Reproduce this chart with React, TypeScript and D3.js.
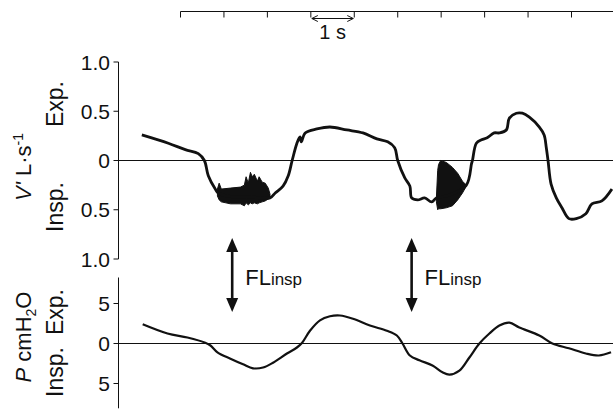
import React from "react";
import * as d3 from "d3";

// ---- data ----
const timeTicks = [0, 1, 2, 3, 4, 5, 6, 7, 8, 9];

const flowTickValues = [1, 0.5, 0, -0.5, -1];
const flowTickLabels = ["1.0", "0.5", "0", "0.5", "1.0"];
const pressTickValues = [5, 0, -5];
const pressTickLabels = ["5", "0", "5"];

// flow (L/s, + = expiration), time in s
const flowT = [-0.89, -0.28, 0.11, 0.41, 0.55, 0.64, 0.8, 0.87, 1.2, 1.6, 2.06, 2.18, 2.36, 2.48, 2.57, 2.68, 2.75, 2.78, 2.87, 3.14, 3.44, 3.83, 4.2, 4.52, 4.77, 4.93, 5.0, 5.16, 5.28, 5.32, 5.46, 5.62, 5.78, 5.89, 6.2, 6.58, 6.7, 6.72, 6.81, 6.93, 7.06, 7.22, 7.34, 7.5, 7.57, 7.73, 7.87, 8.03, 8.26, 8.37, 8.42, 8.46, 8.53, 8.65, 8.78, 8.94, 9.11, 9.33, 9.47, 9.7, 9.93];
const flowV = [0.26, 0.175, 0.11, 0.07, 0, -0.155, -0.29, -0.33, -0.37, -0.37, -0.38, -0.33, -0.26, -0.155, 0, 0.175, 0.24, 0.19, 0.28, 0.32, 0.34, 0.31, 0.28, 0.22, 0.19, 0.13, 0, -0.175, -0.26, -0.38, -0.4, -0.38, -0.42, -0.38, -0.35, -0.25, -0.03, 0, 0.175, 0.21, 0.23, 0.28, 0.28, 0.31, 0.43, 0.48, 0.48, 0.44, 0.34, 0.26, 0.13, 0, -0.24, -0.38, -0.48, -0.59, -0.59, -0.54, -0.44, -0.41, -0.29];

// flow-limited oscillation envelopes
const osc1T = [0.85, 0.89, 0.94, 1.15, 1.38, 1.47, 1.51, 1.56, 1.61, 1.65, 1.7, 1.77, 1.81, 1.88, 1.95, 2.02, 2.06];
const osc1Hi = [-0.29, -0.23, -0.29, -0.28, -0.27, -0.25, -0.165, -0.23, -0.12, -0.165, -0.14, -0.21, -0.165, -0.22, -0.23, -0.28, -0.34];
const osc1Lo = [-0.36, -0.4, -0.42, -0.44, -0.44, -0.46, -0.43, -0.45, -0.43, -0.44, -0.43, -0.44, -0.43, -0.42, -0.41, -0.39, -0.38];

const osc2T = [5.89, 5.92, 5.94, 5.99, 6.12, 6.26, 6.38, 6.49, 6.58];
const osc2Hi = [-0.38, -0.1, -0.04, 0.0, -0.02, -0.07, -0.13, -0.21, -0.25];
const osc2Lo = [-0.42, -0.5, -0.49, -0.49, -0.48, -0.46, -0.4, -0.33, -0.26];

// pressure (cmH2O)
const pressT = [-0.87, -0.3, 0.16, 0.57, 0.69, 0.85, 1.15, 1.44, 1.67, 1.9, 2.13, 2.45, 2.68, 2.8, 2.98, 3.21, 3.44, 3.67, 3.97, 4.36, 4.75, 4.98, 5.11, 5.28, 5.5, 5.8, 6.03, 6.19, 6.42, 6.65, 6.88, 7.11, 7.34, 7.57, 7.8, 8.26, 8.56, 8.94, 9.33, 9.63, 9.91];
const pressV = [2.4, 1.25, 0.75, 0.1, -0.25, -1.1, -1.9, -2.6, -3.1, -3.0, -2.4, -1.25, -0.5, 0.1, 1.6, 2.9, 3.4, 3.5, 3.1, 2.25, 1.6, 1.0, 0, -1.5, -2.1, -2.75, -3.6, -3.9, -3.4, -1.75, 0, 1.25, 2.25, 2.6, 2.0, 1.0, 0, -0.6, -1.25, -1.5, -1.1];

// flow-limitation markers (time in s)
const flMarkers = [1.19, 5.32];
const flLabel = "FL";
const flSub = "insp";

const W = 613;
const H = 412;
const FONT = "'Liberation Sans', Arial, Helvetica, sans-serif";
const INK = "#111";

export default function App() {
  const x = d3.scaleLinear().domain([0, 9]).range([180.5, 571.5]);
  const yF = d3.scaleLinear().domain([-1, 1]).range([259, 62]);
  const yP = d3.scaleLinear().domain([-5, 5]).range([383.5, 303.5]);
  const axisX = 118.5;

  const flowPts = flowT.map((t, i) => [t, flowV[i]] as [number, number]);
  const pressPts = pressT.map((t, i) => [t, pressV[i]] as [number, number]);

  const flowLine = d3
    .line<[number, number]>()
    .x((d) => x(d[0]))
    .y((d) => yF(d[1]))
    .curve(d3.curveCatmullRom.alpha(0.5));
  const pressLine = d3
    .line<[number, number]>()
    .x((d) => x(d[0]))
    .y((d) => yP(d[1]))
    .curve(d3.curveCatmullRom.alpha(0.5));

  const oscArea = (T: number[], hi: number[], lo: number[]) =>
    d3
      .area<number>()
      .x((_, i) => x(T[i]))
      .y0((_, i) => yF(lo[i]))
      .y1((_, i) => yF(hi[i]))
      .curve(d3.curveLinear)(T) as string;

  const oneSecStart = x(3);
  const oneSecEnd = x(4);
  const topY = 11.5;

  return (
    <svg
      width={W}
      height={H}
      style={{ position: "absolute", left: 0, top: 0, background: "#fff" }}
      fontFamily={FONT}
    >
      <rect x={0} y={0} width={W} height={H} fill="#fff" />

      {/* time scale */}
      <line x1={x(0)} x2={W} y1={topY} y2={topY} stroke={INK} strokeWidth={1} />
      {timeTicks.map((t) => (
        <line key={t} x1={x(t)} x2={x(t)} y1={topY} y2={topY + 6} stroke={INK} strokeWidth={1} />
      ))}
      <line x1={oneSecStart + 1} x2={oneSecEnd - 1} y1={18.5} y2={18.5} stroke={INK} strokeWidth={1} />
      <path
        d={`M${oneSecStart + 7},${15.5} L${oneSecStart + 1},${18.5} L${oneSecStart + 7},${21.5}`}
        fill="none"
        stroke={INK}
        strokeWidth={1}
      />
      <path
        d={`M${oneSecEnd - 7},${15.5} L${oneSecEnd - 1},${18.5} L${oneSecEnd - 7},${21.5}`}
        fill="none"
        stroke={INK}
        strokeWidth={1}
      />
      <text x={(oneSecStart + oneSecEnd) / 2} y={39} textAnchor="middle" fontSize={20} fill={INK}>
        1 s
      </text>

      {/* flow axis */}
      <line x1={axisX} x2={axisX} y1={yF(1)} y2={yF(-1)} stroke={INK} strokeWidth={1} />
      {flowTickValues.map((v, i) => (
        <g key={i}>
          <line x1={axisX - 5} x2={axisX} y1={yF(v)} y2={yF(v)} stroke={INK} strokeWidth={1} />
          <text x={110} y={yF(v)} dy="0.36em" textAnchor="end" fontSize={21} fill={INK}>
            {flowTickLabels[i]}
          </text>
        </g>
      ))}
      <line x1={axisX} x2={W} y1={yF(0)} y2={yF(0)} stroke={INK} strokeWidth={1.2} />

      {/* pressure axis */}
      <line x1={axisX} x2={axisX} y1={yP(8.25)} y2={yP(-8.1)} stroke={INK} strokeWidth={1} />
      {pressTickValues.map((v, i) => (
        <g key={i}>
          <line x1={axisX - 5} x2={axisX} y1={yP(v)} y2={yP(v)} stroke={INK} strokeWidth={1} />
          <text x={110} y={yP(v)} dy="0.36em" textAnchor="end" fontSize={21} fill={INK}>
            {pressTickLabels[i]}
          </text>
        </g>
      ))}
      <line x1={axisX} x2={W} y1={yP(0)} y2={yP(0)} stroke={INK} strokeWidth={1.2} />

      {/* axis titles */}
      <text transform={`translate(63,${104}) rotate(-90)`} textAnchor="middle" fontSize={23} fill={INK}>
        Exp.
      </text>
      <text transform={`translate(63,${207}) rotate(-90)`} textAnchor="middle" fontSize={23} fill={INK}>
        Insp.
      </text>
      <text transform={`translate(31,${167}) rotate(-90)`} textAnchor="middle" fontSize={22} fill={INK}>
        <tspan fontStyle="italic">V'</tspan>
        <tspan>{"  L·s"}</tspan>
        <tspan dy={-8} fontSize={14}>-1</tspan>
      </text>
      <text transform={`translate(63,${312}) rotate(-90)`} textAnchor="middle" fontSize={23} fill={INK}>
        Exp.
      </text>
      <text transform={`translate(63,${372}) rotate(-90)`} textAnchor="middle" fontSize={23} fill={INK}>
        Insp.
      </text>
      <text transform={`translate(31,${337}) rotate(-90)`} textAnchor="middle" fontSize={22} fill={INK}>
        <tspan fontStyle="italic">P</tspan>
        <tspan>{" cmH"}</tspan>
        <tspan dy={5} fontSize={14}>2</tspan>
        <tspan dy={-5}>O</tspan>
      </text>

      {/* traces */}
      <path d={oscArea(osc1T, osc1Hi, osc1Lo)} fill={INK} stroke={INK} strokeWidth={1} />
      <path d={oscArea(osc2T, osc2Hi, osc2Lo)} fill={INK} stroke={INK} strokeWidth={1} />
      <path d={flowLine(flowPts) as string} fill="none" stroke={INK} strokeWidth={2.8} strokeLinejoin="round" />
      <path d={pressLine(pressPts) as string} fill="none" stroke={INK} strokeWidth={2.2} strokeLinejoin="round" />

      {/* FL markers */}
      {flMarkers.map((t, i) => {
        const ax = x(t);
        const top = 238;
        const bot = 312;
        return (
          <g key={i}>
            <line x1={ax} x2={ax} y1={top + 10} y2={bot - 10} stroke={INK} strokeWidth={2.6} />
            <path d={`M${ax},${top} L${ax - 6},${top + 14} L${ax + 6},${top + 14} Z`} fill={INK} />
            <path d={`M${ax},${bot} L${ax - 6},${bot - 14} L${ax + 6},${bot - 14} Z`} fill={INK} />
            <text x={ax + 13} y={285} fontSize={22} fill={INK}>
              {flLabel}
              <tspan fontSize={17}>{flSub}</tspan>
            </text>
          </g>
        );
      })}
    </svg>
  );
}
